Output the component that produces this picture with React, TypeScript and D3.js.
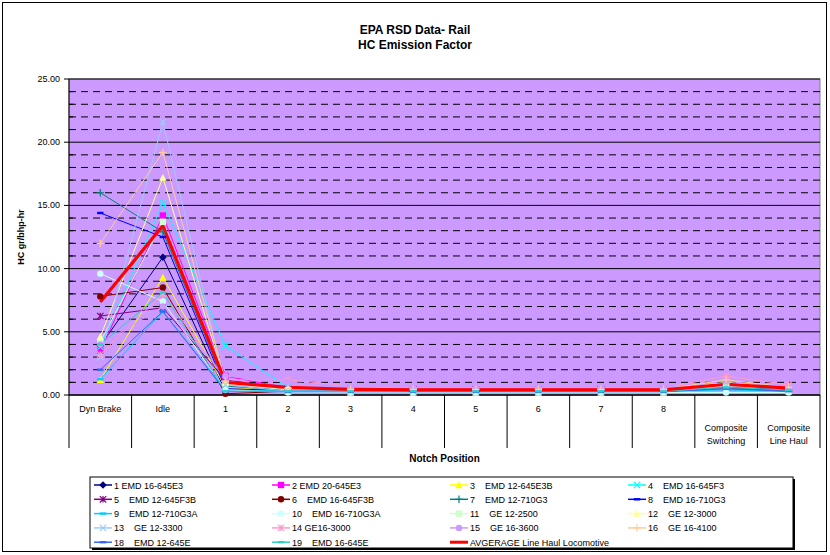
import React from "react";
import * as d3 from "d3";

const categories = ["Dyn Brake", "Idle", "1", "2", "3", "4", "5", "6", "7", "8", "Composite\nSwitching", "Composite\nLine Haul"];
const yTicks = [0, 5, 10, 15, 20, 25];

const seriesNames = [
  "1 EMD 16-645E3", "2 EMD 20-645E3", "3    EMD 12-645E3B", "4    EMD 16-645F3",
  "5    EMD 12-645F3B", "6    EMD 16-645F3B", "7    EMD 12-710G3", "8    EMD 16-710G3",
  "9    EMD 12-710G3A", "10    EMD 16-710G3A", "11    GE 12-2500", "12    GE 12-3000",
  "13    GE 12-3300", "14 GE16-3000", "15    GE 16-3600", "16    GE 16-4100",
  "18    EMD 12-645E", "19    EMD 16-645E", "AVGERAGE Line Haul Locomotive",
];
const seriesColors = [
  "#000080", "#FF00FF", "#FFFF00", "#00FFFF", "#800080", "#800000", "#008080", "#0000FF",
  "#00CCFF", "#CCFFFF", "#CCFFCC", "#FFFF99", "#99CCFF", "#FF99CC", "#CC99FF", "#FFCC99",
  "#3366FF", "#33CCCC", "#FF0000",
];
const seriesMarkers = [
  "diamond", "square", "triangle", "x", "star", "circle", "plus", "dash",
  "dash", "circle", "square", "triangle", "x", "star", "circle", "plus",
  "dash", "dash", "none",
];

const s1 = [3.9, 10.9, 0.3, 0.25, 0.25, 0.25, 0.25, 0.25, 0.25, 0.25, 0.6, 0.3];
const s2 = [3.5, 14.2, 1.5, 0.55, 0.5, 0.5, 0.5, 0.5, 0.5, 0.5, 0.7, 0.5];
const s3 = [1.2, 9.3, 0.6, 0.3, 0.2, 0.2, 0.2, 0.2, 0.2, 0.2, 0.5, 0.3];
const s4 = [3.8, 15.2, 3.9, 0.6, 0.4, 0.4, 0.4, 0.4, 0.4, 0.4, 0.9, 0.5];
const s5 = [6.25, 6.9, 1.2, 0.45, 0.45, 0.45, 0.45, 0.45, 0.45, 0.45, 0.6, 0.45];
const s6 = [7.8, 8.5, 0.1, 0.3, 0.3, 0.3, 0.3, 0.3, 0.3, 0.3, 0.5, 0.3];
const s7 = [16.0, 12.9, 0.7, 0.4, 0.4, 0.4, 0.4, 0.4, 0.4, 0.4, 0.6, 0.4];
const s8 = [14.4, 12.5, 0.5, 0.35, 0.35, 0.35, 0.35, 0.35, 0.35, 0.35, 0.8, 0.4];
const s9 = [1.25, 6.6, 0.4, 0.3, 0.3, 0.3, 0.3, 0.3, 0.3, 0.3, 0.4, 0.3];
const s10 = [9.6, 7.4, 0.4, 0.2, 0.2, 0.2, 0.2, 0.2, 0.2, 0.2, 0.2, 0.2];
const s11 = [4.2, 13.7, 0.9, 0.4, 0.4, 0.4, 0.4, 0.4, 0.4, 0.4, 0.7, 0.5];
const s12 = [4.6, 17.2, 1.0, 0.5, 0.4, 0.4, 0.4, 0.4, 0.4, 0.4, 1.0, 0.6];
const s13 = [3.0, 21.6, 0.8, 0.3, 0.3, 0.3, 0.3, 0.3, 0.3, 0.3, 0.7, 0.5];
const s14 = [3.2, 8.0, 1.2, 1.2, 0.7, 0.55, 0.55, 0.55, 0.55, 0.55, 1.5, 0.8];
const s15 = [4.0, 7.0, 1.5, 1.0, 0.7, 0.6, 0.6, 0.6, 0.6, 0.6, 1.1, 0.6];
const s16 = [12.0, 19.2, 1.1, 0.5, 0.45, 0.45, 0.45, 0.45, 0.45, 0.45, 1.2, 0.6];
const s18 = [2.0, 6.6, 0.3, 0.25, 0.25, 0.25, 0.25, 0.25, 0.25, 0.25, 0.5, 0.3];
const s19 = [4.0, 8.1, 0.3, 0.3, 0.3, 0.3, 0.3, 0.3, 0.3, 0.3, 0.6, 0.4];
const sAvg = [7.35, 13.4, 1.0, 0.6, 0.45, 0.4, 0.4, 0.4, 0.4, 0.4, 0.85, 0.55];

const seriesValues = [s1, s2, s3, s4, s5, s6, s7, s8, s9, s10, s11, s12, s13, s14, s15, s16, s18, s19, sAvg];

const FONT = "'Liberation Sans', Arial, sans-serif";

function Marker({ type, x, y, color }: { type: string; x: number; y: number; color: string }) {
  const r = 3.2;
  switch (type) {
    case "diamond":
      return <path d={`M${x},${y - r - 0.6}L${x + r + 0.6},${y}L${x},${y + r + 0.6}L${x - r - 0.6},${y}Z`} fill={color} />;
    case "square":
      return <rect x={x - r} y={y - r} width={2 * r} height={2 * r} fill={color} />;
    case "triangle":
      return <path d={`M${x},${y - r - 0.5}L${x + r + 0.5},${y + r}L${x - r - 0.5},${y + r}Z`} fill={color} />;
    case "circle":
      return <circle cx={x} cy={y} r={r} fill={color} />;
    case "x":
      return <path d={`M${x - r},${y - r}L${x + r},${y + r}M${x - r},${y + r}L${x + r},${y - r}`} stroke={color} strokeWidth={1.2} fill="none" />;
    case "star":
      return <path d={`M${x - r},${y - r}L${x + r},${y + r}M${x - r},${y + r}L${x + r},${y - r}M${x},${y - r}L${x},${y + r}`} stroke={color} strokeWidth={1.2} fill="none" />;
    case "plus":
      return <path d={`M${x - r - 0.5},${y}L${x + r + 0.5},${y}M${x},${y - r - 0.5}L${x},${y + r + 0.5}`} stroke={color} strokeWidth={1.2} fill="none" />;
    case "dash":
      return <rect x={x - r} y={y - 1.2} width={2 * r} height={2.4} fill={color} />;
    default:
      return null;
  }
}

export default function App() {
  const W = 830, H = 555;
  const left = 69, right = 820, top = 79, bottom = 395;
  const x = d3.scaleBand<string>().domain(categories).range([left, right]).padding(0);
  const y = d3.scaleLinear().domain([0, 25]).range([bottom, top]);
  const cx = (c: string) => (x(c) as number) + x.bandwidth() / 2;
  const minor = d3.range(0, 26, 1).filter((v) => v % 5 !== 0);
  const line = d3.line<number>().x((_, i) => cx(categories[i])).y((v) => y(v));
  const sepBottom = 448;

  const legendLeft = 90, legendTop = 477, legendW = 703, legendH = 71;
  const colW = 178, rowH = 14.3;

  return (
    <svg width={W} height={H} style={{ position: "absolute", left: 0, top: 0, background: "#fff" }} fontFamily={FONT}>
      <rect x={2.5} y={2.5} width={824} height={549} fill="#fff" stroke="#000" strokeWidth={1} />
      {/* title */}
      <text x={415} y={34} textAnchor="middle" fontSize={12} fontWeight="bold">EPA RSD Data- Rail</text>
      <text x={415} y={49} textAnchor="middle" fontSize={12} fontWeight="bold">HC Emission Factor</text>

      {/* plot area */}
      <rect x={left} y={top} width={right - left} height={bottom - top} fill="#CC99FF" stroke="#808080" />
      {minor.map((v) => (
        <line key={"m" + v} x1={left} x2={right} y1={y(v)} y2={y(v)} stroke="#000" strokeDasharray="7,5" strokeWidth={1} />
      ))}
      {yTicks.map((v) => (
        <line key={"g" + v} x1={left} x2={right} y1={y(v)} y2={y(v)} stroke="#000" strokeWidth={1} />
      ))}

      {/* y axis */}
      <line x1={left} x2={left} y1={top} y2={sepBottom} stroke="#000" />
      {yTicks.map((v) => (
        <g key={"t" + v}>
          <line x1={left - 5} x2={left} y1={y(v)} y2={y(v)} stroke="#000" />
          <text x={left - 9} y={y(v) + 3} textAnchor="end" fontSize={9}>{v.toFixed(2)}</text>
        </g>
      ))}
      {minor.map((v) => (
        <line key={"mt" + v} x1={left} x2={left + 4} y1={y(v)} y2={y(v)} stroke="#000" />
      ))}
      <text transform={`translate(24,237) rotate(-90)`} textAnchor="middle" fontSize={9} fontWeight="bold">HC gr/bhp-hr</text>

      {/* x axis table */}
      <line x1={left} x2={right} y1={bottom} y2={bottom} stroke="#000" />
      {categories.map((c, i) => (
        <line key={"s" + i} x1={(x(c) as number) + x.bandwidth()} x2={(x(c) as number) + x.bandwidth()} y1={bottom} y2={sepBottom} stroke="#000" />
      ))}
      {categories.map((c, i) => {
        const parts = c.split("\n");
        const y0 = parts.length > 1 ? 431 : 412;
        return (
          <text key={"c" + i} x={cx(c)} textAnchor="middle" fontSize={9}>
            {parts.map((p, j) => (
              <tspan key={j} x={cx(c)} y={y0 + j * 13}>{p}</tspan>
            ))}
          </text>
        );
      })}
      <text x={(left + right) / 2} y={462} textAnchor="middle" fontSize={10} fontWeight="bold">Notch Position</text>

      {/* series */}
      {seriesValues.map((vals, si) => (
        <path key={"l" + si} d={line(vals) || ""} fill="none" stroke={seriesColors[si]} strokeWidth={si === seriesValues.length - 1 ? 3.2 : 1} />
      ))}
      {seriesValues.map((vals, si) =>
        vals.map((v, i) => (
          <Marker key={`mk${si}-${i}`} type={seriesMarkers[si]} x={cx(categories[i])} y={y(v)} color={seriesColors[si]} />
        ))
      )}

      {/* legend */}
      <rect x={legendLeft + 2} y={legendTop + 2} width={legendW} height={legendH} fill="#000" />
      <rect x={legendLeft} y={legendTop} width={legendW} height={legendH} fill="#fff" stroke="#000" />
      {seriesNames.map((name, i) => {
        const col = i % 4;
        const row = Math.floor(i / 4);
        const lx = legendLeft + 4 + col * colW;
        const ly = legendTop + 8 + row * rowH;
        const isAvg = i === seriesNames.length - 1;
        return (
          <g key={"lg" + i}>
            <line x1={lx} x2={lx + 18} y1={ly} y2={ly} stroke={seriesColors[i]} strokeWidth={isAvg ? 3 : 1.5} />
            <Marker type={seriesMarkers[i]} x={lx + 9} y={ly} color={seriesColors[i]} />
            <text x={lx + 20} y={ly + 3.5} fontSize={9} style={{ whiteSpace: "pre" }}>{name}</text>
          </g>
        );
      })}
    </svg>
  );
}
